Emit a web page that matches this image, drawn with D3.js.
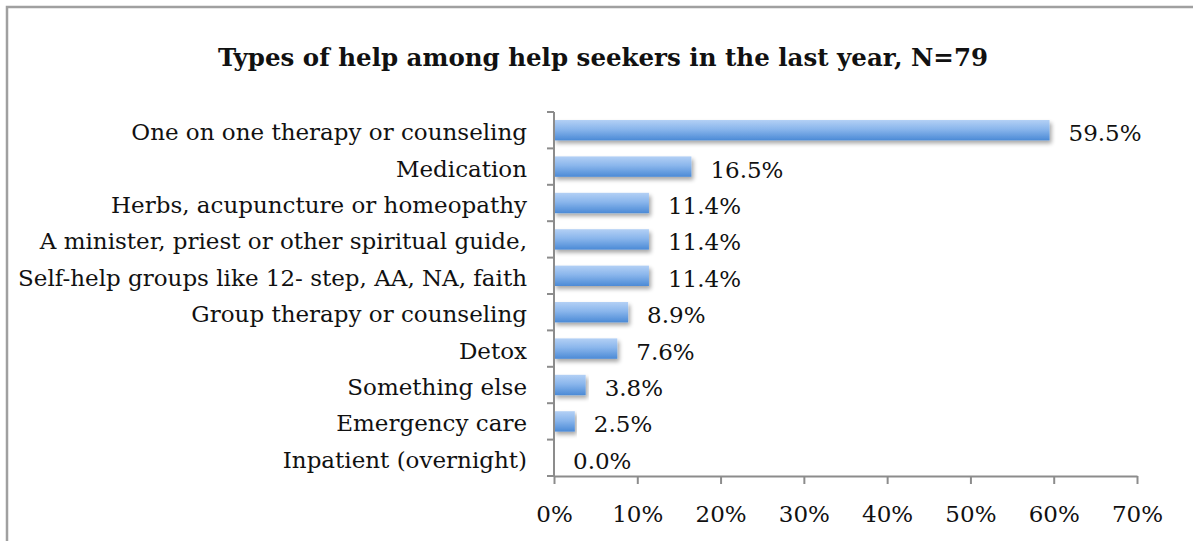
<!DOCTYPE html>
<html>
<head>
<meta charset="utf-8">
<script src="https://cdn.jsdelivr.net/npm/d3@7"></script>
<style>
  html, body { margin: 0; padding: 0; background: #fff; }
  svg { display: block; }
  text { font-family: "DejaVu Serif", "Liberation Serif", serif; fill: #111; }
</style>
</head>
<body>
<svg id="chart" width="1193" height="541"></svg>
<script>
// Help types reported by help seekers in the last year (share of N=79)
const categories = [
  "One on one therapy or counseling",
  "Medication",
  "Herbs, acupuncture or homeopathy",
  "A minister, priest or other spiritual guide,",
  "Self-help groups like 12- step, AA, NA, faith",
  "Group therapy or counseling",
  "Detox",
  "Something else",
  "Emergency care",
  "Inpatient (overnight)"
];
const values = [59.5, 16.5, 11.4, 11.4, 11.4, 8.9, 7.6, 3.8, 2.5, 0.0];
const xTicks = [0, 10, 20, 30, 40, 50, 60, 70];
const title = "Types of help among help seekers in the last year, N=79";

const svg = d3.select("#chart");
const W = 1193, H = 541;
const margin = { left: 554, right: 56, top: 112, bottom: 65 };
const labelSize = 23;

// Outer frame (runs past the right and bottom edges)
svg.append("rect")
  .attr("x", 7).attr("y", 7)
  .attr("width", W + 20).attr("height", H + 20)
  .attr("fill", "none").attr("stroke", "#a0a0a0").attr("stroke-width", 2.5);

const defs = svg.append("defs");
const grad = defs.append("linearGradient")
  .attr("id", "barGrad").attr("x1", 0).attr("y1", 0).attr("x2", 0).attr("y2", 1);
grad.append("stop").attr("offset", "0%").attr("stop-color", "#b3d0f5");
grad.append("stop").attr("offset", "45%").attr("stop-color", "#8ab6ec");
grad.append("stop").attr("offset", "100%").attr("stop-color", "#4b8ad6");

const shadow = defs.append("filter").attr("id", "barShadow")
  .attr("x", "-5%").attr("y", "-30%").attr("width", "115%").attr("height", "190%");
shadow.append("feGaussianBlur").attr("in", "SourceAlpha").attr("stdDeviation", 2).attr("result", "b");
shadow.append("feOffset").attr("in", "b").attr("dx", 1.5).attr("dy", 2.5).attr("result", "o");
shadow.append("feComponentTransfer").attr("in", "o").attr("result", "s")
  .append("feFuncA").attr("type", "linear").attr("slope", 0.35);
const merge = shadow.append("feMerge");
merge.append("feMergeNode").attr("in", "s");
merge.append("feMergeNode").attr("in", "SourceGraphic");

const x = d3.scaleLinear().domain([0, 70]).range([margin.left, W - margin.right]);
const y = d3.scaleBand().domain(categories)
  .range([margin.top, H - margin.bottom]).paddingInner(0.44).paddingOuter(0.22);

// Title
svg.append("text")
  .attr("x", 603).attr("y", 66)
  .attr("text-anchor", "middle")
  .attr("font-weight", "bold")
  .attr("font-size", 24.5)
  .text(title);

// Bars
svg.append("g").selectAll("rect")
  .data(values)
  .join("rect")
  .attr("x", x(0))
  .attr("y", (d, i) => y(categories[i]))
  .attr("width", d => x(d) - x(0))
  .attr("height", y.bandwidth())
  .attr("fill", "url(#barGrad)")
  .attr("filter", "url(#barShadow)");

// Value labels
svg.append("g").selectAll("text")
  .data(values)
  .join("text")
  .attr("x", d => x(d) + 19)
  .attr("y", (d, i) => y(categories[i]) + y.bandwidth() / 2 + 3)
  .attr("dy", "0.35em")
  .attr("font-size", labelSize)
  .text(d => d.toFixed(1) + "%");

// Category axis: tick marks at band boundaries
const yAxisG = svg.append("g");
yAxisG.append("line")
  .attr("x1", x(0)).attr("x2", x(0))
  .attr("y1", margin.top).attr("y2", H - margin.bottom)
  .attr("stroke", "#8c8c8c").attr("stroke-width", 2);
const bounds = d3.range(categories.length + 1).map(i => margin.top + i * (H - margin.bottom - margin.top) / categories.length);
yAxisG.selectAll("line.tk").data(bounds).join("line")
  .attr("class", "tk")
  .attr("x1", x(0) - 7).attr("x2", x(0))
  .attr("y1", d => d).attr("y2", d => d)
  .attr("stroke", "#8c8c8c").attr("stroke-width", 2);
yAxisG.selectAll("text").data(categories).join("text")
  .attr("x", x(0) - 27)
  .attr("y", d => y(d) + y.bandwidth() / 2 + 2)
  .attr("dy", "0.35em")
  .attr("text-anchor", "end")
  .attr("font-size", labelSize)
  .text(d => d);

// Value axis
const xAxis = d3.axisBottom(x)
  .tickValues(xTicks)
  .tickFormat(d => d + "%")
  .tickSize(8)
  .tickSizeOuter(0);
const xg = svg.append("g")
  .attr("transform", `translate(0,${H - margin.bottom})`)
  .call(xAxis);
xg.select(".domain").attr("stroke", "#8c8c8c").attr("stroke-width", 2);
xg.selectAll(".tick line").attr("stroke", "#8c8c8c").attr("stroke-width", 2);
xg.selectAll(".tick text")
  .attr("font-family", "DejaVu Serif, Liberation Serif, serif")
  .attr("font-size", labelSize)
  .attr("fill", "#111")
  .attr("dy", "1.5em");
</script>
</body>
</html>
